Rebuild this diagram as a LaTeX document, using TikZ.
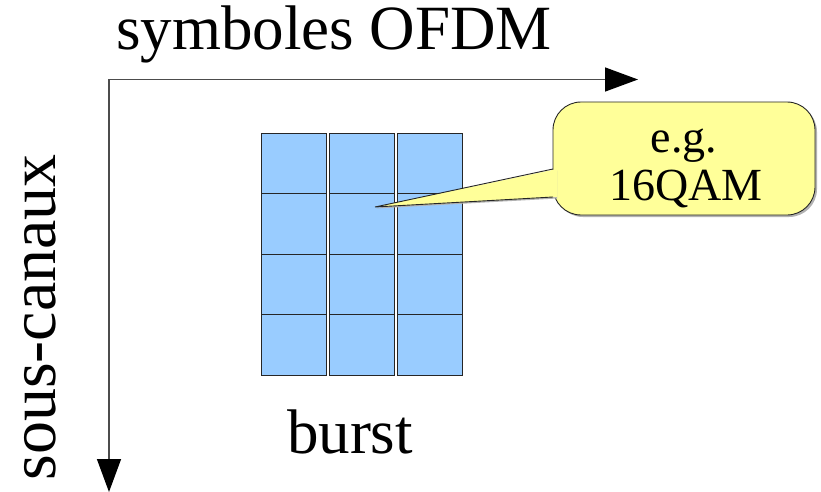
\documentclass[tikz,border=0pt]{standalone}
\usepackage{fontspec}
\setmainfont{Liberation Serif}
\usetikzlibrary{arrows.meta,calc}
\definecolor{cellblue}{HTML}{99CCFF}
\definecolor{noteyellow}{HTML}{FFFF99}
\begin{document}
\begin{tikzpicture}[x=1pt,y=-1pt,
  axis/.style={line width=1.4pt, draw=black!70,
    -{Triangle[length=33pt,width=24pt,color=black,fill=black]}},
  cell/.style={draw=black!85, line width=0.9pt, fill=cellblue,
    minimum width=65pt, minimum height=60.5pt, inner sep=0pt, outer sep=0pt,
    anchor=north west},
  note/.style={draw=black!85, line width=0.9pt, fill=noteyellow,
    rounded corners=28pt, minimum width=262pt, minimum height=113pt,
    inner sep=0pt, outer sep=0pt, anchor=north west},
  noteshadow/.style={note, draw=none, fill=black!30},
  bigtext/.style={font=\fontsize{63}{70}\selectfont, inner sep=0pt, anchor=base},
  notetext/.style={font=\fontsize{46}{50}\selectfont, inner sep=0pt, anchor=base}
]
\useasboundingbox (0,0) rectangle (821,492);

% axes
\coordinate (origin) at (109,79.5);
\coordinate (xend) at (638,79.5);
\coordinate (yend) at (109,492);
\draw[axis] (origin) -- (xend);
\draw[axis] (origin) -- (yend);
\node[bigtext] (xlabel) at (334,50) {symboles OFDM};
\node[bigtext, font=\fontsize{66}{72}\selectfont, rotate=90] (ylabel) at (55.5,317.5) {sous-canaux};

% burst grid
\foreach \c/\x in {1/261,2/329,3/397}
  \foreach \r/\y in {1/133,2/193.5,3/254,4/314.5}
    \node[cell] (c\c\r) at (\x,\y) {};
\node[bigtext] (burst) at (350,453) {burst};

% callout
\coordinate (tip) at (375,207);
\node[noteshadow] (calloutshadow) at (555,104) {};
\node[note] (callout) at (553,102) {};
\coordinate (p1) at ($(callout.north west)+(0,67)$);
\coordinate (p2) at ($(callout.north west)+(0,95)$);
\fill[black!30] ($(tip)+(1,1.5)$) -- ($(p2)+(4,1.5)$) -- ($(p1)+(4,1.5)$) -- cycle;
\fill[noteyellow] (tip) -- ($(p1)+(4,0)$) -- ($(p2)+(4,0)$) -- cycle;
\draw[draw=black!85, line width=0.9pt, line join=miter] (p1) -- (tip) -- (p2);
\node[notetext] (eg) at (684,152) {e.g.};
\node[notetext] (qam) at (686,200) {16QAM};
\end{tikzpicture}
\end{document}
